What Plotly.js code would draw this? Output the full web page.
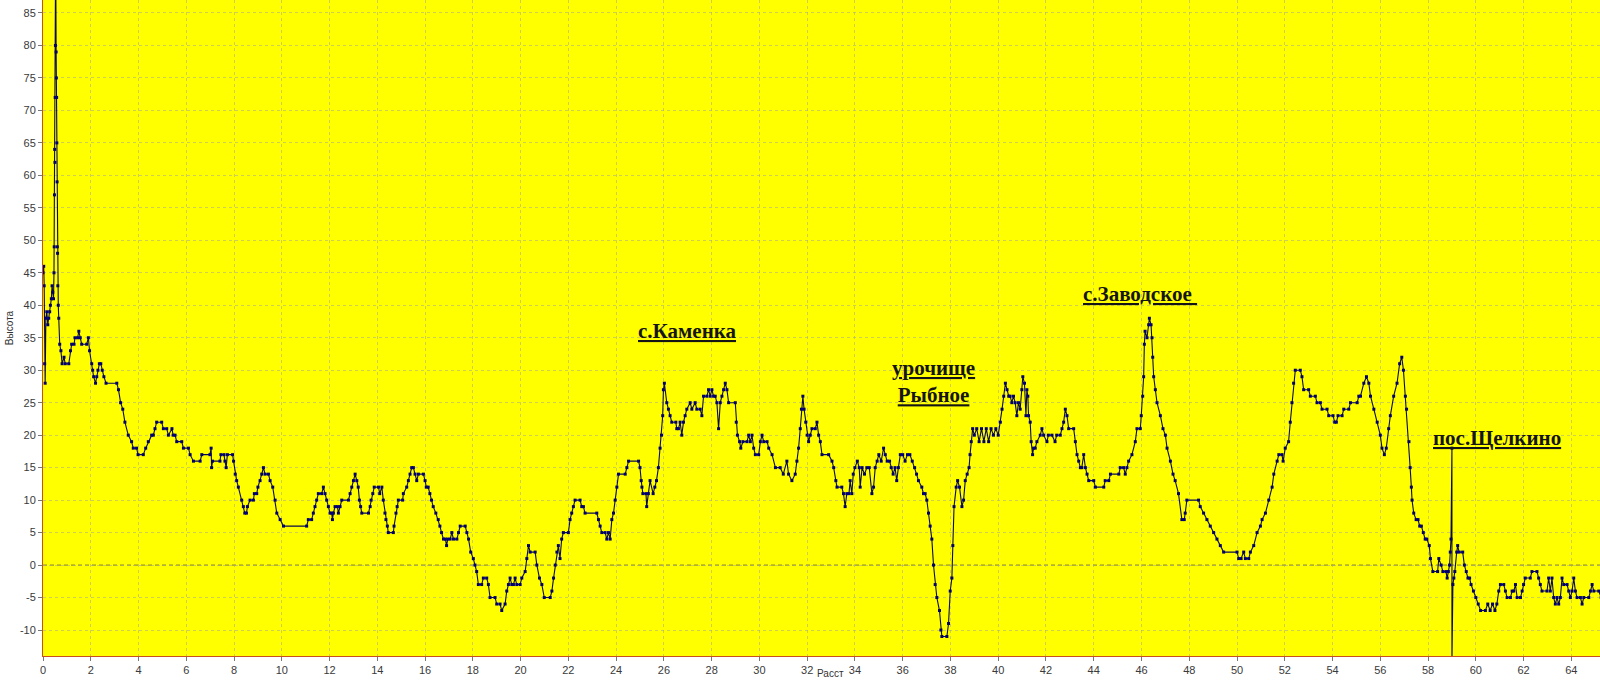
<!DOCTYPE html>
<html>
<head>
<meta charset="utf-8">
<script src="https://cdn.plot.ly/plotly-3.0.1.min.js"></script>
<style>html,body{margin:0;padding:0;background:#fff;}#chart{width:1600px;height:681px;}</style>
</head>
<body>
<div id="chart"></div>
<script>
// Distance along profile (km) and height (m)
const distance = [
  0.00,0.03,0.05,0.07,0.09,0.12,0.16,0.20,0.24,0.28,
  0.31,0.35,0.38,0.41,0.44,0.46,0.47,0.48,0.49,0.50,
  0.51,0.52,0.53,0.55,0.56,0.57,0.58,0.59,0.60,0.61,
  0.62,0.64,0.66,0.70,0.75,0.80,0.88,0.93,1.08,1.15,
  1.20,1.30,1.34,1.45,1.50,1.56,1.62,1.83,1.90,1.95,
  2.04,2.08,2.12,2.20,2.25,2.30,2.36,2.42,2.48,2.55,
  2.64,3.09,3.16,3.25,3.34,3.43,3.57,3.71,3.78,3.92,
  3.98,4.20,4.30,4.41,4.55,4.62,4.69,4.76,4.97,5.04,
  5.18,5.25,5.40,5.45,5.53,5.60,5.81,5.88,6.09,6.16,
  6.30,6.58,6.65,6.99,7.04,7.06,7.10,7.41,7.45,7.58,
  7.62,7.67,7.72,7.94,7.98,8.05,8.11,8.18,8.32,8.39,
  8.45,8.52,8.56,8.67,8.81,8.85,8.95,9.00,9.09,9.16,
  9.23,9.30,9.44,9.51,9.62,9.72,9.79,9.93,10.07,11.04,
  11.11,11.25,11.32,11.39,11.46,11.53,11.67,11.74,11.81,11.88,
  11.95,12.02,12.09,12.12,12.16,12.23,12.33,12.37,12.44,12.51,
  12.79,12.86,12.93,13.00,13.07,13.14,13.20,13.25,13.30,13.35,
  13.63,13.70,13.74,13.81,13.87,14.05,14.10,14.19,14.25,14.32,
  14.36,14.42,14.46,14.67,14.70,14.78,14.83,14.88,15.06,15.09,
  15.23,15.30,15.37,15.44,15.51,15.58,15.65,15.72,15.93,16.00,
  16.05,16.13,16.20,16.27,16.34,16.45,16.55,16.62,16.69,16.77,
  16.85,16.90,16.95,17.05,17.12,17.19,17.33,17.40,17.47,17.68,
  17.75,17.82,17.91,18.02,18.09,18.16,18.23,18.37,18.44,18.58,
  18.65,18.72,18.93,19.00,19.14,19.21,19.35,19.42,19.49,19.56,
  19.63,19.70,19.77,19.84,19.98,20.05,20.19,20.26,20.33,20.40,
  20.61,20.68,20.79,20.89,20.99,21.24,21.31,21.38,21.45,21.52,
  21.58,21.65,21.72,21.79,22.00,22.07,22.14,22.21,22.28,22.49,
  22.56,22.63,22.70,23.19,23.26,23.33,23.40,23.54,23.61,23.68,
  23.75,23.82,23.89,23.96,24.03,24.10,24.38,24.45,24.52,24.94,
  25.00,25.05,25.08,25.12,25.25,25.28,25.35,25.42,25.55,25.62,
  25.69,25.77,25.84,25.90,25.95,25.98,26.02,26.12,26.19,26.26,
  26.33,26.50,26.54,26.61,26.68,26.75,26.82,26.89,26.96,27.10,
  27.17,27.31,27.38,27.52,27.59,27.66,27.80,27.87,27.94,28.01,
  28.08,28.15,28.22,28.29,28.36,28.43,28.50,28.57,28.64,28.71,
  28.99,29.03,29.08,29.17,29.22,29.31,29.48,29.55,29.62,29.69,
  29.76,29.83,29.97,30.04,30.11,30.18,30.32,30.39,30.53,30.67,
  30.87,31.00,31.15,31.22,31.36,31.50,31.57,31.64,31.71,31.76,
  31.82,31.87,31.94,32.00,32.06,32.13,32.20,32.34,32.41,32.48,
  32.55,32.62,32.90,33.04,33.11,33.20,33.25,33.45,33.52,33.59,
  33.66,33.75,33.80,33.87,33.93,34.00,34.10,34.18,34.22,34.30,
  34.40,34.50,34.60,34.71,34.78,34.85,34.93,35.00,35.10,35.20,
  35.27,35.35,35.45,35.52,35.60,35.68,35.75,35.82,35.90,36.00,
  36.10,36.20,36.30,36.40,36.50,36.58,36.66,36.80,36.87,36.94,
  37.01,37.08,37.15,37.22,37.29,37.36,37.43,37.54,37.60,37.64,
  37.85,37.92,37.99,38.06,38.10,38.15,38.24,38.30,38.38,38.48,
  38.55,38.62,38.70,38.78,38.82,38.87,38.93,39.00,39.10,39.20,
  39.30,39.40,39.50,39.60,39.70,39.80,39.90,40.00,40.09,40.16,
  40.23,40.30,40.37,40.44,40.50,40.57,40.64,40.71,40.78,40.85,
  40.92,40.99,41.03,41.10,41.16,41.20,41.24,41.27,41.34,41.38,
  41.44,41.48,41.55,41.62,41.76,41.83,41.90,42.04,42.10,42.25,
  42.38,42.45,42.60,42.67,42.74,42.81,42.88,42.95,43.16,43.23,
  43.30,43.37,43.44,43.50,43.58,43.65,43.72,43.79,44.00,44.07,
  44.42,44.48,44.63,44.70,45.05,45.11,45.25,45.32,45.39,45.46,
  45.60,45.74,45.81,45.95,45.99,46.05,46.09,46.12,46.15,46.23,
  46.30,46.33,46.40,46.44,46.47,46.51,46.58,46.65,46.79,46.90,
  47.00,47.07,47.21,47.32,47.41,47.55,47.69,47.79,47.83,47.90,
  48.39,48.46,48.60,48.74,48.88,49.02,49.16,49.30,49.44,50.00,
  50.07,50.17,50.28,50.35,50.49,50.56,50.70,50.84,50.98,51.05,
  51.19,51.33,51.47,51.54,51.68,51.75,51.88,51.93,52.02,52.16,
  52.23,52.30,52.37,52.44,52.65,52.72,52.79,53.00,53.07,53.28,
  53.35,53.49,53.56,53.77,53.84,54.02,54.09,54.16,54.23,54.40,
  54.47,54.68,54.75,55.03,55.10,55.17,55.31,55.42,55.52,55.59,
  55.73,55.87,56.00,56.07,56.17,56.25,56.35,56.42,56.56,56.70,
  56.81,56.90,56.97,57.05,57.10,57.20,57.25,57.30,57.33,57.40,
  57.50,57.58,57.65,57.72,57.80,57.88,57.95,58.05,58.10,58.20,
  58.40,58.45,58.55,58.62,58.75,58.80,58.85,58.90,58.93,58.96,
  59.00,59.00,59.04,59.08,59.12,59.20,59.24,59.30,59.45,59.52,
  59.60,59.67,59.74,59.80,59.90,60.00,60.10,60.20,60.40,60.50,
  60.60,60.70,60.80,60.88,60.96,61.03,61.17,61.24,61.31,61.45,
  61.52,61.59,61.66,61.73,61.87,61.94,62.00,62.07,62.28,62.35,
  62.56,62.63,62.70,62.77,62.98,63.05,63.12,63.19,63.26,63.33,
  63.40,63.47,63.54,63.61,63.68,63.82,63.89,63.96,64.03,64.10,
  64.17,64.24,64.38,64.45,64.52,64.73,64.80,64.87,64.94,65.15,
  65.25
];
const height = [
  45,46,43,31,28,38,39,37,38,39,
  40,41,43,42,41,45,49,57,64,62,
  72,80,95,79,75,72,65,59,49,48,
  43,40,38,34,33,31,32,31,31,33,
  34,34,35,35,36,35,34,34,35,33,
  31,30,29,28,29,30,31,31,30,29,
  28,28,27,25,24,22,20,19,18,18,
  17,17,18,19,20,20,21,22,22,21,
  21,20,21,20,20,19,19,18,18,17,
  16,16,17,17,18,15,16,16,17,17,
  16,15,17,17,16,14,13,12,10,9,
  8,8,9,10,10,11,11,12,13,14,
  15,14,14,13,12,10,8,7,6,6,
  7,7,8,9,10,11,11,12,11,10,
  9,8,8,7,8,9,9,8,9,10,
  10,11,12,13,14,13,12,10,9,8,
  8,9,10,11,12,12,11,12,10,8,
  7,6,5,5,6,8,9,10,10,11,
  12,13,14,15,15,14,13,14,14,13,
  12,12,11,10,9,8,7,6,5,4,
  4,3,4,4,5,4,4,5,6,6,
  5,4,2,1,0,-1,-3,-3,-2,-2,
  -3,-5,-5,-6,-6,-7,-6,-4,-3,-2,
  -3,-3,-2,-3,-3,-2,-1,1,3,2,
  2,0,-2,-3,-5,-5,-4,-2,0,2,
  3,1,4,5,5,7,8,9,10,10,
  9,9,8,8,7,6,5,5,4,5,
  4,7,8,10,12,14,14,15,16,16,
  15,13,12,11,11,9,11,13,11,12,
  13,15,18,20,23,27,28,25,24,23,
  22,22,21,21,22,20,22,23,24,25,
  24,25,24,24,23,26,26,27,26,27,
  26,26,25,21,25,26,27,28,27,25,
  25,22,20,19,18,19,19,20,19,20,
  18,17,17,19,20,19,19,18,17,15,
  15,14,16,14,13,14,16,18,21,24,
  26,24,22,20,19,20,21,21,22,20,
  19,17,17,16,15,13,12,12,11,9,
  11,11,13,11,14,15,16,15,12,15,
  14,15,15,11,12,15,16,17,16,18,
  17,16,16,15,14,15,13,15,17,17,
  16,17,17,16,15,14,13,12,11,11,
  10,8,6,4,0,-3,-5,-7,-10,-11,
  -11,-9,-4,-2,3,9,12,13,12,9,
  10,13,14,15,17,19,21,20,21,19,
  21,19,21,19,21,20,21,20,22,24,
  26,28,27,26,26,25,26,25,23,25,
  24,27,29,28,23,27,26,23,22,19,
  17,18,18,19,20,21,20,19,20,20,
  19,20,20,21,22,24,23,21,21,19,
  17,16,15,15,17,15,14,13,13,12,
  12,13,13,14,14,15,15,14,15,16,
  17,19,21,21,23,26,29,34,36,35,
  37,38,37,35,32,29,27,25,23,21,
  20,18,16,14,13,11,7,7,8,10,
  10,9,8,7,6,5,4,3,2,2,
  1,1,2,1,1,2,3,5,6,7,
  8,10,12,14,16,17,17,16,18,19,
  22,25,28,30,30,29,27,27,26,26,
  25,25,24,24,23,23,22,22,23,23,
  24,24,25,25,26,26,28,29,28,26,
  24,22,20,18,17,18,21,23,26,28,
  31,32,30,26,24,19,15,12,10,8,
  7,7,6,6,5,4,4,3,1,-1,
  -1,1,0,-1,-1,-2,-1,0,2,4,
  18,-15,-3,-2,-1,2,3,2,2,0,
  -1,-2,-2,-3,-4,-5,-6,-7,-7,-6,
  -7,-6,-7,-6,-4,-3,-3,-4,-5,-5,
  -4,-4,-3,-5,-5,-4,-3,-2,-2,-1,
  -1,-2,-3,-4,-4,-2,-4,-2,-5,-6,
  -5,-6,-5,-2,-3,-3,-4,-5,-4,-2,
  -4,-5,-5,-6,-5,-5,-4,-3,-4,-4,
  -5
];
const xTickValues = [0,2,4,6,8,10,12,14,16,18,20,22,24,26,28,30,32,34,36,38,40,42,44,46,48,50,52,54,56,58,60,62,64];
const yTickValues = [-10,-5,0,5,10,15,20,25,30,35,40,45,50,55,60,65,70,75,80,85];
const placeNames = ['с.Каменка', 'урочище<br>Рыбное', 'с.Заводское ', 'пос.Щелкино'];
const axisTitles = {x: 'Расст', y: 'Высота'};

const tickFont = {family: 'Liberation Sans, Arial, sans-serif', size: 11, color: '#3a3a3a'};
const gridColor = 'rgba(165,165,150,0.55)';
const labelFont = {family: 'Liberation Serif, Times New Roman, serif', size: 21, color: '#151515'};
const titleFont = {family: 'Liberation Sans, Arial, sans-serif', size: 10, color: '#333'};

const trace = {
  x: distance,
  y: height,
  type: 'scatter',
  mode: 'lines+markers',
  line: {color: '#0a0a45', width: 1.1},
  marker: {symbol: 'square', size: 3, color: '#000070'},
  hoverinfo: 'x+y'
};

const labelPos = [
  {x: 27.0, y: 36.1},
  {x: 37.3, y: 28.3},
  {x: 45.95, y: 41.7},
  {x: 60.9, y: 19.6}
];

const annotations = placeNames.map((t, i) => ({
  x: labelPos[i].x, y: labelPos[i].y, xref: 'x', yref: 'y',
  text: '<b><u>' + t + '</u></b>', showarrow: false,
  font: labelFont, align: 'center', xanchor: 'center', yanchor: 'middle'
}));
annotations.push({
  x: 0.506, y: -0.026, xref: 'paper', yref: 'paper', text: axisTitles.x,
  showarrow: false, font: titleFont, xanchor: 'center', yanchor: 'middle'
});

const layout = {
  width: 1600, height: 681,
  margin: {l: 43, r: 0, t: 0, b: 25, pad: 0},
  paper_bgcolor: '#ffffff',
  plot_bgcolor: '#ffff00',
  showlegend: false,
  xaxis: {
    range: [0, 65.2], tickvals: xTickValues, ticktext: xTickValues.map(String),
    ticks: 'outside', ticklen: 4, tickcolor: '#777', tickfont: tickFont,
    showline: true, linecolor: '#c8501e', linewidth: 1,
    showgrid: true, gridcolor: gridColor, griddash: '3px,3px', gridwidth: 1,
    zeroline: false, automargin: false
  },
  yaxis: {
    range: [-14, 87], tickvals: yTickValues, ticktext: yTickValues.map(String),
    ticks: 'outside', ticklen: 4, tickcolor: '#777', tickfont: tickFont,
    showline: true, linecolor: '#c8501e', linewidth: 1,
    showgrid: true, gridcolor: gridColor, griddash: '3px,3px', gridwidth: 1,
    zeroline: false, automargin: false,
    title: {text: axisTitles.y, font: titleFont, standoff: 4}
  },
  shapes: [{
    type: 'line', xref: 'paper', x0: 0, x1: 1, yref: 'y', y0: 0, y1: 0,
    line: {color: '#7a7a2a', width: 1, dash: '4px,3px'}, layer: 'below'
  }],
  annotations: annotations
};

Plotly.newPlot('chart', [trace], layout, {displayModeBar: false, staticPlot: true});
</script>
</body>
</html>
